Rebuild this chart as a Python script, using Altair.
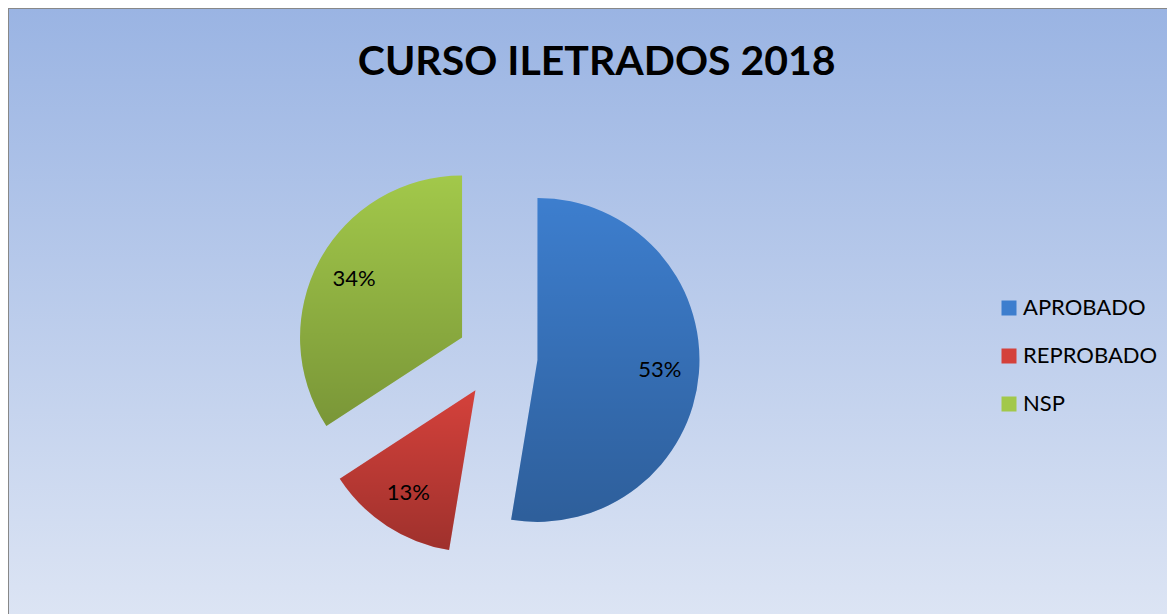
import altair as alt
import pandas as pd

# ---- data ----
categories = ["APROBADO", "REPROBADO", "NSP"]
values = [52.6, 13.2, 34.2]          # percent shares
order = [0, 1, 2]
colors = ["#3D7ECE", "#D4413B", "#A2C84A"]
title_text = "CURSO ILETRADOS 2018"

# ---- style / layout constants ----
W, H = 1159, 606
CX, CY = 489.4, 348.6   # pie centre (pixels)
R = 162                 # radius
D = 40.2                # explosion distance
LD = 163                # label distance from pie centre

df = pd.DataFrame({"cat": categories, "value": values, "idx": order})

base = (
    alt.Chart(df)
    .transform_joinaggregate(total="sum(value)")
    .transform_window(cum="sum(value)", sort=[{"field": "idx"}])
    .transform_calculate(
        mid="2*PI*(datum.cum - datum.value/2)/datum.total",
        pct="datum.value/datum.total",
    )
    .transform_calculate(
        px=f"{CX} + {D}*sin(datum.mid)",
        py=f"{CY} - {D}*cos(datum.mid)",
        lx=f"{CX} + {LD}*sin(datum.mid)",
        ly=f"{CY} - {LD}*cos(datum.mid)",
    )
)

color_scale = alt.Scale(domain=categories, range=colors)

arcs = base.mark_arc(outerRadius=R).encode(
    theta=alt.Theta("value:Q", stack=True),
    order=alt.Order("idx:Q"),
    x=alt.X("px:Q", scale=None),
    y=alt.Y("py:Q", scale=None),
    color=alt.Color(
        "cat:N",
        scale=color_scale,
        sort=categories,
        legend=alt.Legend(
            title=None,
            orient="none",
            legendX=990,
            legendY=289,
            symbolType="square",
            symbolSize=225,
            symbolStrokeWidth=0,
            labelFont="Lato",
            labelFontSize=22,
            labelColor="#000000",
            labelBaseline="middle",
            rowPadding=26,
            labelOffset=3,
            padding=0,
        ),
    ),
)

shade = base.mark_arc(
    outerRadius=R,
    color={
        "gradient": "linear",
        "x1": 0, "y1": 0, "x2": 0, "y2": 1,
        "stops": [
            {"offset": 0, "color": "rgba(0,0,0,0)"},
            {"offset": 1, "color": "rgba(0,0,0,0.25)"},
        ],
    },
).encode(
    theta=alt.Theta("value:Q", stack=True),
    order=alt.Order("idx:Q"),
    x=alt.X("px:Q", scale=None),
    y=alt.Y("py:Q", scale=None),
)

labels = base.mark_text(font="Lato", fontSize=22, color="#000000").encode(
    x=alt.X("lx:Q", scale=None),
    y=alt.Y("ly:Q", scale=None),
    text=alt.Text("pct:Q", format=".0%"),
)

one = pd.DataFrame({"t": [title_text]})

bg = alt.Chart(one).mark_rect(
    color={
        "gradient": "linear",
        "x1": 0, "y1": 0, "x2": 0, "y2": 1,
        "stops": [
            {"offset": 0, "color": "#9AB4E3"},
            {"offset": 1, "color": "#DDE5F4"},
        ],
    },
    stroke="#888888",
    strokeWidth=2,
).encode(
    x=alt.value(0), x2=alt.value(W + 10),
    y=alt.value(0), y2=alt.value(H + 10),
)

title = alt.Chart(one).mark_text(
    font="Lato", fontSize=41, fontWeight="bold", color="#000000",
    align="center", baseline="alphabetic",
).encode(
    x=alt.value(588.7), y=alt.value(67), text="t:N"
)

chart = (
    alt.layer(bg, title, arcs, shade, labels)
    .properties(width=W, height=H, padding=0, autosize=alt.AutoSizeParams(type="none"))
    .configure_view(stroke=None)
)

chart.save("out.html", embed_options={"renderer": "svg", "actions": False})
